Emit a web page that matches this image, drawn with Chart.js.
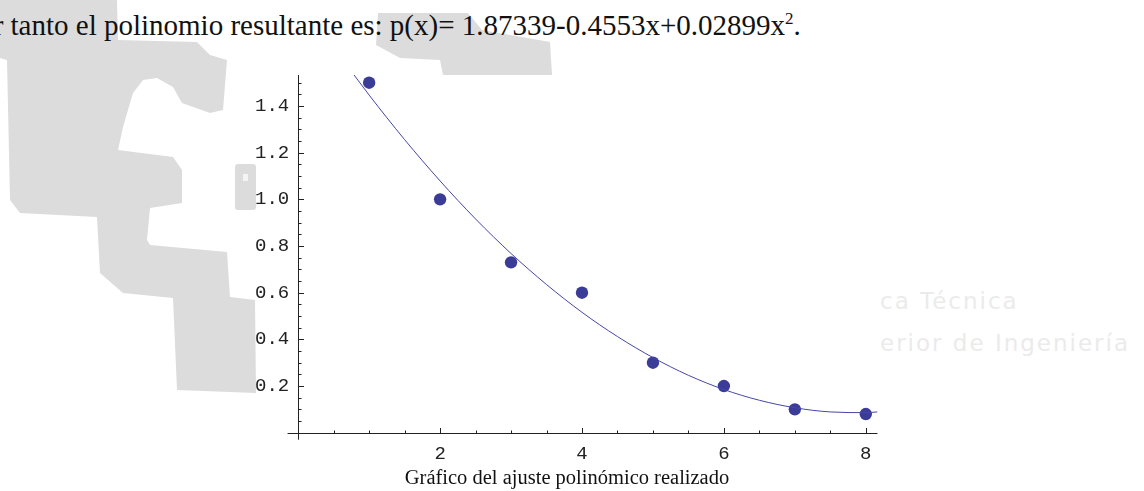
<!DOCTYPE html>
<html><head><meta charset="utf-8">
<script src="https://cdn.jsdelivr.net/npm/chart.js@4/dist/chart.umd.min.js"></script>
<style>
html,body{margin:0;padding:0;background:#fff;width:1144px;height:491px;overflow:hidden;position:relative}
#wm{position:absolute;left:0;top:0}
#c{position:absolute;left:0;top:0}
.t{position:absolute;white-space:nowrap;font-family:"Liberation Serif",serif;color:#111}
.f{position:absolute;white-space:nowrap;font-family:"DejaVu Sans",sans-serif;color:#ebebeb;font-size:23px;letter-spacing:2px}
</style></head><body>
<svg id="wm" width="1144" height="491">
<polygon fill="#dcdcdc" points="0,0 117,0 118,40 197,42 210,55 227,60 223,110 210,113 182,103 173,87 157,78 143,80 133,93 123,127 118,150 173,157 182,170 182,203 150,208 147,240 150,245 227,252 230,297 255,300 256,393 177,390 173,298 123,293 100,273 97,217 20,213 10,200 7,60 0,58"/>
<polygon fill="#dcdcdc" points="378,13 468,13 482,30 550,42 552,75 443,75 440,60 400,58 376,45"/>
<rect fill="#dcdcdc" x="235" y="164" width="21" height="46" rx="3"/>
<rect fill="#f4f4f4" x="243" y="174" width="5" height="7"/>
</svg>
<div class="f" style="left:880px;top:288px">ca Técnica</div>
<div class="f" style="left:880px;top:330px">erior de Ingeniería</div>
<div class="t" id="head" style="left:-37px;top:9px;font-size:29px;line-height:32px">Por tanto el polinomio resultante es: p(x)= 1.87339-0.4553x+0.02899x<sup style="font-size:17px;line-height:0">2</sup>.</div>
<canvas id="c" width="1144" height="491"></canvas>
<div class="t" id="cap" style="left:317px;width:500px;text-align:center;top:464.5px;font-size:20.5px;line-height:24px">Gráfico del ajuste polinómico realizado</div>
<script>
// Data points
const pointsX = [1, 2, 3, 4, 5, 6, 7, 8];
const pointsY = [1.5, 1.0, 0.73, 0.6, 0.3, 0.2, 0.1, 0.08];
// Fitted curve
const curveX = [0.7, 1, 1.5, 2, 2.5, 3, 3.5, 4, 4.5, 5, 5.5, 6, 6.5, 7, 7.5, 8, 8.165];
const curveY = [1.569, 1.447, 1.256, 1.079, 0.916, 0.768, 0.635, 0.516, 0.412, 0.322, 0.246, 0.185, 0.139, 0.107, 0.089, 0.086, 0.089];
// Tick labels
const xTickValues = [2, 4, 6, 8];
const xTickLabels = ['2', '4', '6', '8'];
const yTickValues = [0.2, 0.4, 0.6, 0.8, 1.0, 1.2, 1.4];
const yTickLabels = ['0.2', '0.4', '0.6', '0.8', '1.0', '1.2', '1.4'];
const xMinorStep = 0.5, yMinorStep = 0.05;

const axisColor = '#222';
const axesPlugin = {
  id: 'axes',
  beforeDatasetsDraw(chart) {
    const {ctx, scales: {x, y}} = chart;
    const x0 = Math.round(x.getPixelForValue(0)) + 0.5;
    const y0 = Math.round(y.getPixelForValue(0)) + 0.5;
    ctx.save();
    ctx.strokeStyle = axisColor;
    ctx.lineWidth = 1;
    ctx.beginPath();
    ctx.moveTo(x.getPixelForValue(-0.15), y0);
    ctx.lineTo(x.getPixelForValue(x.max), y0);
    ctx.moveTo(x0, y.getPixelForValue(-0.03));
    ctx.lineTo(x0, y.getPixelForValue(y.max));
    for (let v = xMinorStep; v <= x.max + 1e-9; v += xMinorStep) {
      const major = Math.abs(v / 2 - Math.round(v / 2)) < 1e-6;
      const px = Math.round(x.getPixelForValue(v)) + 0.5;
      ctx.moveTo(px, y0);
      ctx.lineTo(px, y0 - (major ? 5.5 : 3));
    }
    for (let i = 1; i * yMinorStep <= y.max + 1e-9; i++) {
      const v = i * yMinorStep;
      const major = i % 4 === 0;
      const py = Math.round(y.getPixelForValue(v)) + 0.5;
      ctx.moveTo(x0, py);
      ctx.lineTo(x0 + (major ? 5.5 : 3), py);
    }
    ctx.stroke();
    ctx.restore();
  }
};

const tickFont = {family: '"Liberation Mono", monospace', size: 19};

new Chart(document.getElementById('c'), {
  data: {
    datasets: [
      {
        type: 'line',
        data: curveX.map((v, i) => ({x: v, y: curveY[i]})),
        borderColor: '#4646a6',
        borderWidth: 1,
        pointRadius: 0,
        cubicInterpolationMode: 'monotone',
        fill: false
      },
      {
        type: 'scatter',
        data: pointsX.map((v, i) => ({x: v, y: pointsY[i]})),
        backgroundColor: '#3b3b98',
        borderColor: '#3b3b98',
        borderWidth: 0,
        pointRadius: 6.2
      }
    ]
  },
  plugins: [axesPlugin],
  options: {
    responsive: false,
    animation: false,
    layout: {padding: {left: 0, right: 266.5, top: 75, bottom: 0}},
    plugins: {legend: {display: false}, tooltip: {enabled: false}, title: {display: false}},
    scales: {
      x: {
        type: 'linear', min: 0, max: 8.165,
        grid: {display: false}, border: {display: false},
        afterBuildTicks: s => { s.ticks = xTickValues.map(v => ({value: v})); },
        afterFit: s => { s.height = 58.3; },
        ticks: {
          font: tickFont, color: '#222', padding: 2, maxRotation: 0, autoSkip: false,
          callback: (v) => { const i = xTickValues.indexOf(v); return i >= 0 ? xTickLabels[i] : ''; }
        }
      },
      y: {
        type: 'linear', min: 0, max: 1.533,
        grid: {display: false}, border: {display: false},
        afterBuildTicks: s => { s.ticks = yTickValues.map(v => ({value: v})); },
        afterFit: s => { s.width = 298.2; },
        ticks: {
          font: tickFont, color: '#222', padding: 1, autoSkip: false,
          callback: (v) => { const i = yTickValues.findIndex(t => Math.abs(t - v) < 1e-9); return i >= 0 ? yTickLabels[i] : ''; }
        }
      }
    }
  }
});
</script>
</body></html>
